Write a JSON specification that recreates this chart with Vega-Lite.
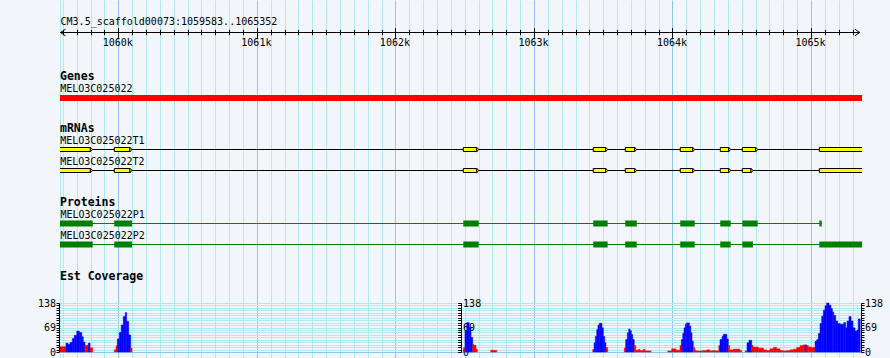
{
  "$schema": "https://vega.github.io/schema/vega-lite/v6.json",
  "width": 802,
  "height": 358,
  "autosize": {"type": "none"},
  "padding": {"left": 60, "top": 0, "right": 28, "bottom": 0},
  "background": "#f2f5fa",
  "config": {
    "view": {"stroke": null},
    "text": {"font": "DejaVu Sans Mono", "fontSize": 10, "color": "#000000"},
    "axis": {"labelFont": "DejaVu Sans Mono", "labelFontSize": 10, "labelColor": "#000000", "tickColor": "#000000", "domainColor": "#000000", "labelOverlap": false, "labelFlush": false}
  },
  "datasets": {
    "ruler": [{"name": "CM3.5_scaffold00073:1059583..1065352", "start": 1059583, "end": 1065352, "row": "ruler"}],
    "headers": [{"name": "Genes"}, {"name": "mRNAs"}, {"name": "Proteins"}, {"name": "Est Coverage"}],
    "genes": [{"name": "MELO3C025022", "start": 1059572, "end": 1065420}],
    "transcripts": [
      {"name": "MELO3C025022T1", "start": 1059572, "end": 1065420},
      {"name": "MELO3C025022T2", "start": 1059572, "end": 1065420}
    ],
    "exons": [
      {"name": "MELO3C025022T1", "start": 1059572, "end": 1059798},
      {"name": "MELO3C025022T1", "start": 1059971, "end": 1060084},
      {"name": "MELO3C025022T1", "start": 1062490, "end": 1062587},
      {"name": "MELO3C025022T1", "start": 1063428, "end": 1063518},
      {"name": "MELO3C025022T1", "start": 1063659, "end": 1063727},
      {"name": "MELO3C025022T1", "start": 1064056, "end": 1064146},
      {"name": "MELO3C025022T1", "start": 1064345, "end": 1064406},
      {"name": "MELO3C025022T1", "start": 1064504, "end": 1064601},
      {"name": "MELO3C025022T1", "start": 1065060, "end": 1065420},
      {"name": "MELO3C025022T2", "start": 1059572, "end": 1059798},
      {"name": "MELO3C025022T2", "start": 1059971, "end": 1060084},
      {"name": "MELO3C025022T2", "start": 1062490, "end": 1062587},
      {"name": "MELO3C025022T2", "start": 1063428, "end": 1063518},
      {"name": "MELO3C025022T2", "start": 1063659, "end": 1063727},
      {"name": "MELO3C025022T2", "start": 1064056, "end": 1064146},
      {"name": "MELO3C025022T2", "start": 1064345, "end": 1064406},
      {"name": "MELO3C025022T2", "start": 1064504, "end": 1064567},
      {"name": "MELO3C025022T2", "start": 1065060, "end": 1065420}
    ],
    "proteins": [
      {"name": "MELO3C025022P1", "start": 1059579, "end": 1065077},
      {"name": "MELO3C025022P2", "start": 1059579, "end": 1065420}
    ],
    "cds": [
      {"name": "MELO3C025022P1", "start": 1059579, "end": 1059815},
      {"name": "MELO3C025022P1", "start": 1059971, "end": 1060099},
      {"name": "MELO3C025022P1", "start": 1062490, "end": 1062601},
      {"name": "MELO3C025022P1", "start": 1063428, "end": 1063532},
      {"name": "MELO3C025022P1", "start": 1063659, "end": 1063742},
      {"name": "MELO3C025022P1", "start": 1064056, "end": 1064160},
      {"name": "MELO3C025022P1", "start": 1064345, "end": 1064420},
      {"name": "MELO3C025022P1", "start": 1064504, "end": 1064615},
      {"name": "MELO3C025022P1", "start": 1065060, "end": 1065077},
      {"name": "MELO3C025022P2", "start": 1059579, "end": 1059815},
      {"name": "MELO3C025022P2", "start": 1059971, "end": 1060099},
      {"name": "MELO3C025022P2", "start": 1062490, "end": 1062601},
      {"name": "MELO3C025022P2", "start": 1063428, "end": 1063532},
      {"name": "MELO3C025022P2", "start": 1063659, "end": 1063742},
      {"name": "MELO3C025022P2", "start": 1064056, "end": 1064160},
      {"name": "MELO3C025022P2", "start": 1064345, "end": 1064420},
      {"name": "MELO3C025022P2", "start": 1064504, "end": 1064581},
      {"name": "MELO3C025022P2", "start": 1065060, "end": 1065420}
    ],
    "coverage": [
      {"start": 1059579, "end": 1059622, "depth": 15, "strand": "-"},
      {"start": 1059622, "end": 1059637, "depth": 25, "strand": "+"},
      {"start": 1059637, "end": 1059651, "depth": 21, "strand": "+"},
      {"start": 1059651, "end": 1059668, "depth": 27, "strand": "+"},
      {"start": 1059668, "end": 1059682, "depth": 38, "strand": "+"},
      {"start": 1059682, "end": 1059700, "depth": 47, "strand": "+"},
      {"start": 1059700, "end": 1059718, "depth": 59, "strand": "+"},
      {"start": 1059718, "end": 1059736, "depth": 55, "strand": "+"},
      {"start": 1059736, "end": 1059747, "depth": 43, "strand": "+"},
      {"start": 1059747, "end": 1059759, "depth": 28, "strand": "+"},
      {"start": 1059759, "end": 1059783, "depth": 19, "strand": "-"},
      {"start": 1059783, "end": 1059796, "depth": 25, "strand": "+"},
      {"start": 1059796, "end": 1059815, "depth": 12, "strand": "-"},
      {"start": 1059971, "end": 1059983, "depth": 6, "strand": "-"},
      {"start": 1059983, "end": 1059993, "depth": 17, "strand": "-"},
      {"start": 1059993, "end": 1060007, "depth": 37, "strand": "+"},
      {"start": 1060007, "end": 1060021, "depth": 55, "strand": "+"},
      {"start": 1060021, "end": 1060036, "depth": 76, "strand": "+"},
      {"start": 1060036, "end": 1060050, "depth": 100, "strand": "+"},
      {"start": 1060050, "end": 1060060, "depth": 111, "strand": "+"},
      {"start": 1060060, "end": 1060075, "depth": 86, "strand": "+"},
      {"start": 1060075, "end": 1060089, "depth": 48, "strand": "+"},
      {"start": 1060089, "end": 1060099, "depth": 11, "strand": "-"},
      {"start": 1062490, "end": 1062502, "depth": 12, "strand": "-"},
      {"start": 1062502, "end": 1062515, "depth": 60, "strand": "+"},
      {"start": 1062515, "end": 1062533, "depth": 83, "strand": "+"},
      {"start": 1062533, "end": 1062546, "depth": 69, "strand": "+"},
      {"start": 1062546, "end": 1062558, "depth": 41, "strand": "+"},
      {"start": 1062558, "end": 1062567, "depth": 21, "strand": "-"},
      {"start": 1062567, "end": 1062582, "depth": 19, "strand": "-"},
      {"start": 1062582, "end": 1062591, "depth": 8, "strand": "-"},
      {"start": 1062688, "end": 1062731, "depth": 5, "strand": "-"},
      {"start": 1063424, "end": 1063434, "depth": 7, "strand": "-"},
      {"start": 1063434, "end": 1063443, "depth": 26, "strand": "+"},
      {"start": 1063443, "end": 1063453, "depth": 44, "strand": "+"},
      {"start": 1063453, "end": 1063462, "depth": 63, "strand": "+"},
      {"start": 1063462, "end": 1063472, "depth": 76, "strand": "+"},
      {"start": 1063472, "end": 1063491, "depth": 81, "strand": "+"},
      {"start": 1063491, "end": 1063501, "depth": 68, "strand": "+"},
      {"start": 1063501, "end": 1063511, "depth": 44, "strand": "+"},
      {"start": 1063511, "end": 1063520, "depth": 26, "strand": "+"},
      {"start": 1063520, "end": 1063532, "depth": 13, "strand": "-"},
      {"start": 1063652, "end": 1063662, "depth": 11, "strand": "-"},
      {"start": 1063662, "end": 1063674, "depth": 35, "strand": "+"},
      {"start": 1063674, "end": 1063684, "depth": 54, "strand": "+"},
      {"start": 1063684, "end": 1063693, "depth": 65, "strand": "+"},
      {"start": 1063693, "end": 1063703, "depth": 60, "strand": "+"},
      {"start": 1063703, "end": 1063713, "depth": 49, "strand": "+"},
      {"start": 1063713, "end": 1063724, "depth": 35, "strand": "+"},
      {"start": 1063724, "end": 1063735, "depth": 18, "strand": "-"},
      {"start": 1063735, "end": 1063753, "depth": 5, "strand": "-"},
      {"start": 1063753, "end": 1063766, "depth": 7, "strand": "-"},
      {"start": 1063766, "end": 1063789, "depth": 4, "strand": "-"},
      {"start": 1063789, "end": 1063802, "depth": 7, "strand": "-"},
      {"start": 1063802, "end": 1063845, "depth": 3, "strand": "-"},
      {"start": 1063966, "end": 1063994, "depth": 3, "strand": "-"},
      {"start": 1063994, "end": 1064026, "depth": 9, "strand": "-"},
      {"start": 1064026, "end": 1064054, "depth": 5, "strand": "-"},
      {"start": 1064054, "end": 1064064, "depth": 18, "strand": "-"},
      {"start": 1064064, "end": 1064074, "depth": 35, "strand": "+"},
      {"start": 1064074, "end": 1064083, "depth": 52, "strand": "+"},
      {"start": 1064083, "end": 1064093, "depth": 68, "strand": "+"},
      {"start": 1064093, "end": 1064103, "depth": 79, "strand": "+"},
      {"start": 1064103, "end": 1064122, "depth": 82, "strand": "+"},
      {"start": 1064122, "end": 1064132, "depth": 73, "strand": "+"},
      {"start": 1064132, "end": 1064141, "depth": 54, "strand": "+"},
      {"start": 1064141, "end": 1064150, "depth": 30, "strand": "+"},
      {"start": 1064150, "end": 1064161, "depth": 13, "strand": "-"},
      {"start": 1064161, "end": 1064170, "depth": 5, "strand": "-"},
      {"start": 1064170, "end": 1064218, "depth": 3, "strand": "-"},
      {"start": 1064218, "end": 1064247, "depth": 4, "strand": "-"},
      {"start": 1064247, "end": 1064271, "depth": 6, "strand": "-"},
      {"start": 1064271, "end": 1064283, "depth": 3, "strand": "-"},
      {"start": 1064283, "end": 1064314, "depth": 4, "strand": "-"},
      {"start": 1064314, "end": 1064334, "depth": 3, "strand": "-"},
      {"start": 1064334, "end": 1064343, "depth": 18, "strand": "-"},
      {"start": 1064343, "end": 1064358, "depth": 35, "strand": "+"},
      {"start": 1064358, "end": 1064367, "depth": 44, "strand": "+"},
      {"start": 1064367, "end": 1064392, "depth": 50, "strand": "+"},
      {"start": 1064392, "end": 1064403, "depth": 37, "strand": "+"},
      {"start": 1064403, "end": 1064413, "depth": 18, "strand": "-"},
      {"start": 1064413, "end": 1064439, "depth": 6, "strand": "-"},
      {"start": 1064439, "end": 1064487, "depth": 8, "strand": "-"},
      {"start": 1064487, "end": 1064500, "depth": 4, "strand": "-"},
      {"start": 1064524, "end": 1064538, "depth": 3, "strand": "-"},
      {"start": 1064538, "end": 1064552, "depth": 26, "strand": "+"},
      {"start": 1064552, "end": 1064572, "depth": 33, "strand": "+"},
      {"start": 1064572, "end": 1064581, "depth": 19, "strand": "-"},
      {"start": 1064581, "end": 1064620, "depth": 14, "strand": "-"},
      {"start": 1064620, "end": 1064656, "depth": 11, "strand": "-"},
      {"start": 1064656, "end": 1064680, "depth": 6, "strand": "-"},
      {"start": 1064680, "end": 1064704, "depth": 4, "strand": "-"},
      {"start": 1064704, "end": 1064728, "depth": 9, "strand": "-"},
      {"start": 1064728, "end": 1064752, "depth": 13, "strand": "-"},
      {"start": 1064752, "end": 1064776, "depth": 9, "strand": "-"},
      {"start": 1064776, "end": 1064800, "depth": 4, "strand": "-"},
      {"start": 1064800, "end": 1064825, "depth": 3, "strand": "-"},
      {"start": 1064825, "end": 1064848, "depth": 4, "strand": "-"},
      {"start": 1064848, "end": 1064872, "depth": 6, "strand": "-"},
      {"start": 1064872, "end": 1064897, "depth": 8, "strand": "-"},
      {"start": 1064897, "end": 1064921, "depth": 13, "strand": "-"},
      {"start": 1064921, "end": 1064944, "depth": 18, "strand": "-"},
      {"start": 1064944, "end": 1064957, "depth": 20, "strand": "-"},
      {"start": 1064957, "end": 1064969, "depth": 20, "strand": "+"},
      {"start": 1064969, "end": 1064981, "depth": 18, "strand": "-"},
      {"start": 1064981, "end": 1065000, "depth": 14, "strand": "-"},
      {"start": 1065000, "end": 1065029, "depth": 13, "strand": "-"},
      {"start": 1065029, "end": 1065041, "depth": 30, "strand": "+"},
      {"start": 1065041, "end": 1065053, "depth": 35, "strand": "+"},
      {"start": 1065053, "end": 1065065, "depth": 52, "strand": "+"},
      {"start": 1065065, "end": 1065077, "depth": 80, "strand": "+"},
      {"start": 1065077, "end": 1065089, "depth": 101, "strand": "+"},
      {"start": 1065089, "end": 1065101, "depth": 118, "strand": "+"},
      {"start": 1065101, "end": 1065113, "depth": 130, "strand": "+"},
      {"start": 1065113, "end": 1065130, "depth": 138, "strand": "+"},
      {"start": 1065130, "end": 1065144, "depth": 132, "strand": "+"},
      {"start": 1065144, "end": 1065154, "depth": 122, "strand": "+"},
      {"start": 1065154, "end": 1065164, "depth": 113, "strand": "+"},
      {"start": 1065164, "end": 1065178, "depth": 103, "strand": "+"},
      {"start": 1065178, "end": 1065193, "depth": 87, "strand": "+"},
      {"start": 1065193, "end": 1065211, "depth": 80, "strand": "+"},
      {"start": 1065211, "end": 1065236, "depth": 78, "strand": "+"},
      {"start": 1065236, "end": 1065250, "depth": 83, "strand": "+"},
      {"start": 1065250, "end": 1065260, "depth": 68, "strand": "+"},
      {"start": 1065260, "end": 1065274, "depth": 87, "strand": "+"},
      {"start": 1065274, "end": 1065289, "depth": 100, "strand": "+"},
      {"start": 1065289, "end": 1065303, "depth": 87, "strand": "+"},
      {"start": 1065303, "end": 1065318, "depth": 68, "strand": "+"},
      {"start": 1065318, "end": 1065332, "depth": 59, "strand": "+"},
      {"start": 1065332, "end": 1065341, "depth": 62, "strand": "+"},
      {"start": 1065341, "end": 1065355, "depth": 93, "strand": "+"}
    ]
  },
  "resolve": {"scale": {"y": "independent"}, "axis": {"x": "independent", "y": "independent"}},
  "layer": [
    {
      "data": {"name": "ruler"},
      "mark": {"type": "rule", "stroke": "#aeeaf0", "strokeWidth": 1},
      "encoding": {
        "x": {"field": "start", "type": "quantitative",
          "scale": {"domain": [1059579, 1065368], "nice": false, "zero": false},
          "axis": {"orient": "top", "offset": 0, "title": null, "ticks": false, "labels": false, "domain": false, "grid": true, "gridWidth": 1,
            "gridColor": {"condition": {"test": "datum.value % 1000 === 0", "value": "#8cc8ee"}, "value": "#aeeaf0"},
            "values": [1059600,1059700,1059800,1059900,1060000,1060100,1060200,1060300,1060400,1060500,1060600,1060700,1060800,1060900,1061000,1061100,1061200,1061300,1061400,1061500,1061600,1061700,1061800,1061900,1062000,1062100,1062200,1062300,1062400,1062500,1062600,1062700,1062800,1062900,1063000,1063100,1063200,1063300,1063400,1063500,1063600,1063700,1063800,1063900,1064000,1064100,1064200,1064300,1064400,1064500,1064600,1064700,1064800,1064900,1065000,1065100,1065200,1065300]}}
      }
    },
    {
      "data": {"name": "ruler"},
      "mark": {"type": "rule", "stroke": "#000000", "strokeWidth": 1},
      "encoding": {
        "x": {"field": "start", "type": "quantitative", "axis": null},
        "x2": {"field": "end"},
        "y": {"field": "row", "type": "nominal", "scale": {"type": "point", "padding": 0, "domain": ["ruler"], "range": [32.5, 32.5]}, "axis": null}
      }
    },
    {
      "data": {"name": "ruler"},
      "mark": {"type": "text", "align": "left", "baseline": "alphabetic", "dy": -7.5},
      "encoding": {
        "x": {"field": "start", "type": "quantitative",
          "axis": {"orient": "bottom", "offset": -328.7, "title": null, "tickSize": 5.4, "labels": false, "domain": false, "grid": false,
            "values": [1059600,1059700,1059800,1059900,1060100,1060200,1060300,1060400,1060500,1060600,1060700,1060800,1060900,1061100,1061200,1061300,1061400,1061500,1061600,1061700,1061800,1061900,1062100,1062200,1062300,1062400,1062500,1062600,1062700,1062800,1062900,1063100,1063200,1063300,1063400,1063500,1063600,1063700,1063800,1063900,1064100,1064200,1064300,1064400,1064500,1064600,1064700,1064800,1064900,1065100,1065200,1065300]}},
        "y": {"field": "row", "type": "nominal", "scale": {"type": "point", "padding": 0, "domain": ["ruler"], "range": [32.5, 32.5]}, "axis": null},
        "text": {"field": "name"}
      }
    },
    {
      "data": {"name": "ruler"},
      "transform": [{"fold": ["start", "end"], "as": ["side", "pos"]}],
      "mark": {"type": "point", "filled": false, "stroke": "#000000", "strokeWidth": 1, "size": 44, "opacity": 1},
      "encoding": {
        "x": {"field": "pos", "type": "quantitative",
          "axis": {"orient": "bottom", "offset": -330.3, "title": null, "tickSize": 9.6, "labelPadding": 8.4, "labelBaseline": "alphabetic", "labelOffset": -1, "domain": false, "grid": false,
            "labelExpr": "format(datum.value / 1000, 'd') + 'k'",
            "values": [1060000, 1061000, 1062000, 1063000, 1064000, 1065000]}},
        "y": {"field": "row", "type": "nominal", "scale": {"type": "point", "padding": 0, "domain": ["ruler"], "range": [32.5, 32.5]}, "axis": null},
        "shape": {"field": "side", "type": "nominal", "scale": {"domain": ["start", "end"], "range": ["M1.5,-1L0,0L1.5,1", "M-1.5,-1L0,0L-1.5,1"]}, "legend": null}
      }
    },
    {
      "layer": [
        {
          "data": {"name": "headers"},
          "transform": [{"filter": "datum.name === 'Genes'"}],
          "mark": {"type": "text", "align": "left", "baseline": "alphabetic", "fontWeight": "bold", "fontSize": 11.5, "dy": 3},
          "encoding": {
            "x": {"datum": 1059579, "type": "quantitative", "axis": null},
            "y": {"field": "name", "type": "nominal", "scale": {"type": "point", "padding": 0, "domain": ["Genes", "MELO3C025022"], "range": [77, 98]}, "axis": null},
            "text": {"field": "name"}
          }
        },
        {
          "data": {"name": "genes"},
          "mark": {"type": "bar", "color": "#ff0000", "height": 6, "clip": true},
          "encoding": {
            "x": {"field": "start", "type": "quantitative", "axis": null},
            "x2": {"field": "end"},
            "y": {"field": "name", "type": "nominal", "scale": {"type": "point", "padding": 0, "domain": ["Genes", "MELO3C025022"], "range": [77, 98]}, "axis": null}
          }
        },
        {
          "data": {"name": "genes"},
          "mark": {"type": "text", "align": "left", "baseline": "alphabetic", "dx": 1.2, "dy": -6.3},
          "encoding": {
            "x": {"field": "start", "type": "quantitative", "axis": null},
            "y": {"field": "name", "type": "nominal", "scale": {"type": "point", "padding": 0, "domain": ["Genes", "MELO3C025022"], "range": [77, 98]}, "axis": null},
            "text": {"field": "name"}
          }
        }
      ]
    },
    {
      "layer": [
        {
          "data": {"name": "headers"},
          "transform": [{"filter": "datum.name === 'mRNAs'"}],
          "mark": {"type": "text", "align": "left", "baseline": "alphabetic", "fontWeight": "bold", "fontSize": 11.5, "dy": 3.5},
          "encoding": {
            "x": {"datum": 1059579, "type": "quantitative", "axis": null},
            "y": {"field": "name", "type": "nominal", "scale": {"type": "point", "padding": 0, "domain": ["mRNAs", "MELO3C025022T1", "MELO3C025022T2"], "range": [128.5, 170.5]}, "axis": null},
            "text": {"field": "name"}
          }
        },
        {
          "data": {"name": "transcripts"},
          "mark": {"type": "rule", "stroke": "#000000", "strokeWidth": 1, "clip": true},
          "encoding": {
            "x": {"field": "start", "type": "quantitative", "axis": null},
            "x2": {"field": "end"},
            "y": {"field": "name", "type": "nominal", "scale": {"type": "point", "padding": 0, "domain": ["mRNAs", "MELO3C025022T1", "MELO3C025022T2"], "range": [128.5, 170.5]}, "axis": null}
          }
        },
        {
          "data": {"name": "exons"},
          "mark": {"type": "bar", "fill": "#ffff00", "stroke": "#000000", "strokeWidth": 1, "height": 4, "clip": true},
          "encoding": {
            "x": {"field": "start", "type": "quantitative", "axis": null},
            "x2": {"field": "end"},
            "y": {"field": "name", "type": "nominal", "scale": {"type": "point", "padding": 0, "domain": ["mRNAs", "MELO3C025022T1", "MELO3C025022T2"], "range": [128.5, 170.5]}, "axis": null}
          }
        },
        {
          "data": {"name": "exons"},
          "mark": {"type": "point", "shape": "M0,-1L1,0L0,1Z", "filled": true, "fill": "#ffff00", "stroke": "#000000", "strokeWidth": 1, "size": 18, "opacity": 1, "clip": true},
          "encoding": {
            "x": {"field": "end", "type": "quantitative", "axis": null},
            "y": {"field": "name", "type": "nominal", "scale": {"type": "point", "padding": 0, "domain": ["mRNAs", "MELO3C025022T1", "MELO3C025022T2"], "range": [128.5, 170.5]}, "axis": null}
          }
        },
        {
          "data": {"name": "transcripts"},
          "mark": {"type": "text", "align": "left", "baseline": "alphabetic", "dx": 1.2, "dy": -5.6},
          "encoding": {
            "x": {"field": "start", "type": "quantitative", "axis": null},
            "y": {"field": "name", "type": "nominal", "scale": {"type": "point", "padding": 0, "domain": ["mRNAs", "MELO3C025022T1", "MELO3C025022T2"], "range": [128.5, 170.5]}, "axis": null},
            "text": {"field": "name"}
          }
        }
      ]
    },
    {
      "layer": [
        {
          "data": {"name": "headers"},
          "transform": [{"filter": "datum.name === 'Proteins'"}],
          "mark": {"type": "text", "align": "left", "baseline": "alphabetic", "fontWeight": "bold", "fontSize": 11.5, "dy": 3.5},
          "encoding": {
            "x": {"datum": 1059579, "type": "quantitative", "axis": null},
            "y": {"field": "name", "type": "nominal", "scale": {"type": "point", "padding": 0, "domain": ["Proteins", "MELO3C025022P1", "MELO3C025022P2"], "range": [202.5, 244.5]}, "axis": null},
            "text": {"field": "name"}
          }
        },
        {
          "data": {"name": "proteins"},
          "mark": {"type": "rule", "stroke": "#008000", "strokeWidth": 1, "clip": true},
          "encoding": {
            "x": {"field": "start", "type": "quantitative", "axis": null},
            "x2": {"field": "end"},
            "y": {"field": "name", "type": "nominal", "scale": {"type": "point", "padding": 0, "domain": ["Proteins", "MELO3C025022P1", "MELO3C025022P2"], "range": [202.5, 244.5]}, "axis": null}
          }
        },
        {
          "data": {"name": "cds"},
          "mark": {"type": "bar", "fill": "#008000", "height": 6, "clip": true},
          "encoding": {
            "x": {"field": "start", "type": "quantitative", "axis": null},
            "x2": {"field": "end"},
            "y": {"field": "name", "type": "nominal", "scale": {"type": "point", "padding": 0, "domain": ["Proteins", "MELO3C025022P1", "MELO3C025022P2"], "range": [202.5, 244.5]}, "axis": null}
          }
        },
        {
          "data": {"name": "proteins"},
          "mark": {"type": "text", "align": "left", "baseline": "alphabetic", "dx": 0.5, "dy": -5.3},
          "encoding": {
            "x": {"field": "start", "type": "quantitative", "axis": null},
            "y": {"field": "name", "type": "nominal", "scale": {"type": "point", "padding": 0, "domain": ["Proteins", "MELO3C025022P1", "MELO3C025022P2"], "range": [202.5, 244.5]}, "axis": null},
            "text": {"field": "name"}
          }
        }
      ]
    },
    {
      "data": {"name": "headers"},
      "transform": [{"filter": "datum.name === 'Est Coverage'"}],
      "mark": {"type": "text", "align": "left", "baseline": "alphabetic", "fontWeight": "bold", "fontSize": 11.5},
      "encoding": {
        "x": {"datum": 1059579, "type": "quantitative", "axis": null},
        "y": {"field": "name", "type": "nominal", "scale": {"type": "point", "padding": 0, "domain": ["Est Coverage"], "range": [280, 280]}, "axis": null},
        "text": {"field": "name"}
      }
    },
    {
      "data": {"name": "coverage"},
      "transform": [{"filter": "datum.start < 1062000"}],
      "mark": {"type": "bar", "strokeWidth": 0.5, "clip": true},
      "encoding": {
        "x": {"field": "start", "type": "quantitative", "axis": null},
        "x2": {"field": "end"},
        "y": {"field": "depth", "type": "quantitative", "scale": {"domain": [0, 138], "range": [352, 303], "nice": false, "zero": true},
          "axis": {"orient": "left", "offset": 1, "title": null, "tickSize": 3, "labelPadding": 0.5, "labelBaseline": "middle", "domain": true, "grid": true, "gridWidth": 1,
            "gridColor": {"condition": {"test": "datum.value === 0", "value": "#8cc8ee"}, "value": "#aeeaf0"},
            "labelExpr": "datum.value === 0 || datum.value === 69 || datum.value === 138 ? '' + datum.value : ''",
            "values": [0, 6.9, 13.8, 20.7, 27.6, 34.5, 41.4, 48.3, 55.2, 62.1, 69, 75.9, 82.8, 89.7, 96.6, 103.5, 110.4, 117.3, 124.2, 131.1, 138]}},
        "y2": {"datum": 0},
        "color": {"field": "strand", "type": "nominal", "scale": {"domain": ["+", "-"], "range": ["#0000ff", "#ff0000"]}, "legend": null},
        "stroke": {"field": "strand", "type": "nominal", "scale": {"domain": ["+", "-"], "range": ["#0000ff", "#ff0000"]}, "legend": null}
      }
    },
    {
      "data": {"name": "coverage"},
      "transform": [{"filter": "datum.start >= 1062000 && datum.start < 1063900"}],
      "mark": {"type": "bar", "strokeWidth": 0.5, "clip": true},
      "encoding": {
        "x": {"field": "start", "type": "quantitative", "axis": null},
        "x2": {"field": "end"},
        "y": {"field": "depth", "type": "quantitative", "scale": {"domain": [0, 138], "range": [352, 303], "nice": false, "zero": true},
          "axis": {"orient": "left", "offset": -401, "title": null, "tickSize": 3.3, "labelAlign": "left", "labelPadding": -4.9, "labelBaseline": "middle", "domain": true, "grid": false,
            "labelExpr": "datum.value === 0 || datum.value === 69 || datum.value === 138 ? '' + datum.value : ''",
            "values": [0, 6.9, 13.8, 20.7, 27.6, 34.5, 41.4, 48.3, 55.2, 62.1, 69, 75.9, 82.8, 89.7, 96.6, 103.5, 110.4, 117.3, 124.2, 131.1, 138]}},
        "y2": {"datum": 0},
        "color": {"field": "strand", "type": "nominal", "legend": null},
        "stroke": {"field": "strand", "type": "nominal", "legend": null}
      }
    },
    {
      "data": {"name": "coverage"},
      "transform": [{"filter": "datum.start >= 1063900"}],
      "mark": {"type": "bar", "strokeWidth": 0.5, "clip": true},
      "encoding": {
        "x": {"field": "start", "type": "quantitative", "axis": null},
        "x2": {"field": "end"},
        "y": {"field": "depth", "type": "quantitative", "scale": {"domain": [0, 138], "range": [352, 303], "nice": false, "zero": true},
          "axis": {"orient": "right", "offset": -1, "title": null, "tickSize": 3, "labelPadding": 0.5, "labelBaseline": "middle", "domain": true, "grid": false,
            "labelExpr": "datum.value === 0 || datum.value === 69 || datum.value === 138 ? '' + datum.value : ''",
            "values": [0, 6.9, 13.8, 20.7, 27.6, 34.5, 41.4, 48.3, 55.2, 62.1, 69, 75.9, 82.8, 89.7, 96.6, 103.5, 110.4, 117.3, 124.2, 131.1, 138]}},
        "y2": {"datum": 0},
        "color": {"field": "strand", "type": "nominal", "legend": null},
        "stroke": {"field": "strand", "type": "nominal", "legend": null}
      }
    }
  ]
}
